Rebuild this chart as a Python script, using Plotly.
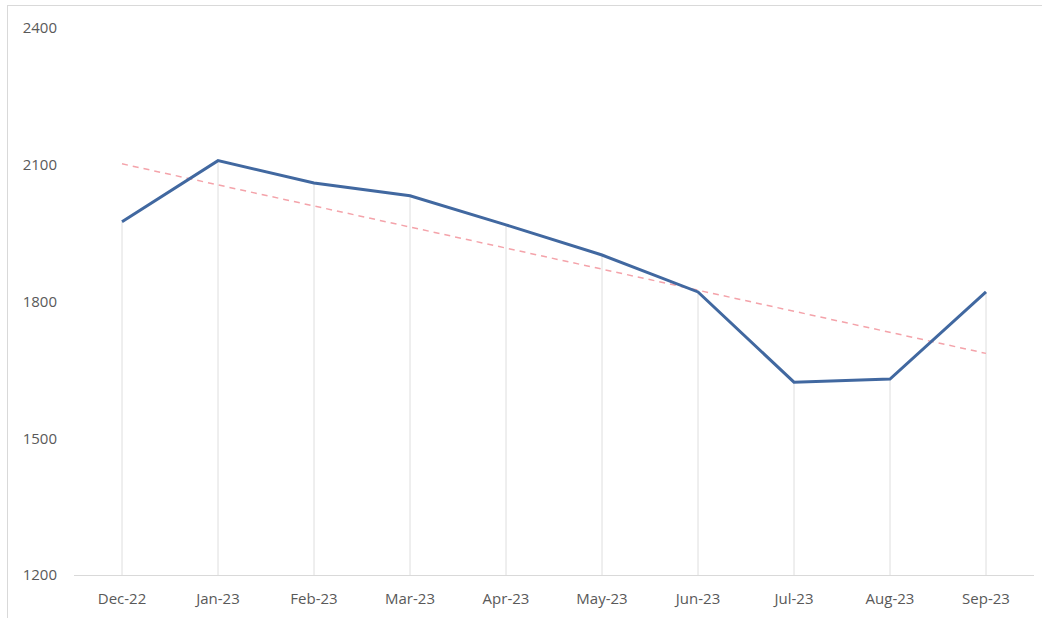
import numpy as np
import plotly.graph_objects as go

months = ["Dec-22", "Jan-23", "Feb-23", "Mar-23", "Apr-23", "May-23",
          "Jun-23", "Jul-23", "Aug-23", "Sep-23"]
values = [1975, 2109, 2060, 2032, 1968, 1902, 1821, 1623, 1630, 1821]
y_ticks = [1200, 1500, 1800, 2100, 2400]
y_base = 1200

idx = np.arange(len(values))
slope, intercept = np.polyfit(idx, values, 1)
trend = [float(slope * i + intercept) for i in idx]

fig = go.Figure()

# drop lines from each point to the axis
fig.add_trace(go.Scatter(
    x=months, y=values, mode="markers",
    marker=dict(size=1, color="rgba(0,0,0,0)"),
    error_y=dict(type="data", symmetric=False,
                 array=[0] * len(values),
                 arrayminus=[v - y_base for v in values],
                 color="#dedede", thickness=1, width=0),
    hoverinfo="skip", showlegend=False))

fig.add_trace(go.Scatter(
    x=months, y=trend, mode="lines",
    line=dict(color="#f4a3aa", width=1.5, dash="6px,5px"),
    showlegend=False))

fig.add_trace(go.Scatter(
    x=months, y=values, mode="lines",
    line=dict(color="#4168a0", width=3),
    showlegend=False))

font_color = "#595959"
fig.update_layout(
    width=1042, height=618,
    margin=dict(l=74, r=8, t=28, b=43),
    paper_bgcolor="white", plot_bgcolor="white",
    font=dict(family="Open Sans", size=15, color=font_color),
    xaxis=dict(type="category", range=[-0.5, len(months) - 0.5],
               showgrid=False, showline=True, linecolor="#d9d9d9",
               linewidth=1, ticks="", ticklabelstandoff=10,
               zeroline=False, fixedrange=True),
    yaxis=dict(range=[y_ticks[0], y_ticks[-1]], tickvals=y_ticks,
               showgrid=False, showline=False, zeroline=False,
               ticks="", ticklabelstandoff=16, fixedrange=True),
    shapes=[
        dict(type="line", xref="paper", yref="paper",
             x0=(7 - 74) / 960, x1=(1042 - 74) / 960,
             y0=(575 - 5.5) / 547, y1=(575 - 5.5) / 547,
             line=dict(color="#d9d9d9", width=1)),
        dict(type="line", xref="paper", yref="paper",
             x0=(7.5 - 74) / 960, x1=(7.5 - 74) / 960,
             y0=(575 - 5.5) / 547, y1=(575 - 618) / 547,
             line=dict(color="#d9d9d9", width=1)),
    ],
)

fig.write_html("out.html")
